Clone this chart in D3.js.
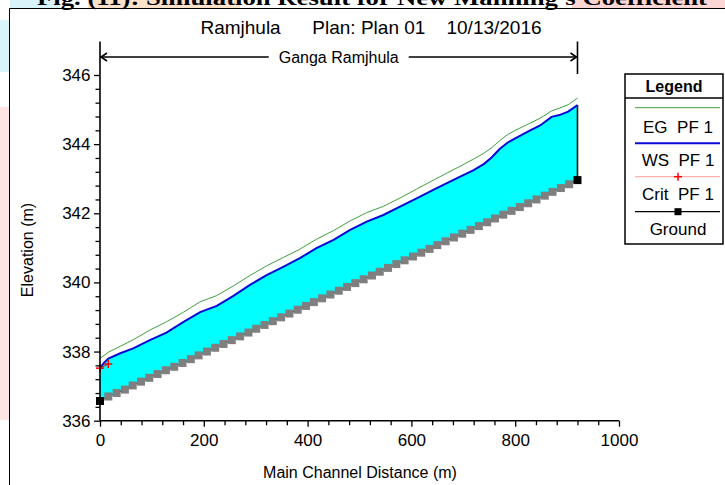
<!DOCTYPE html>
<html>
<head>
<meta charset="utf-8">
<script src="https://cdn.jsdelivr.net/npm/d3@7"></script>
<style>
  body { margin: 0; background: #fff; }
  text { font-family: "Liberation Sans", Arial, sans-serif; }
</style>
</head>
<body>
<svg width="725" height="485"></svg>
<script>
let width = 725, height = 485;

let svg = d3.select("svg");

// Ground profile (main channel distance in m, elevation in m)
let groundDist = [0, 16, 32, 48, 63, 79, 95, 111, 127, 143, 159, 175, 190, 206, 222, 238, 254, 270, 286, 301,
    317, 333, 349, 365, 381, 397, 412, 428, 444, 460, 476, 492, 508, 524, 539, 555, 571, 587, 603, 619,
    635, 650, 666, 682, 698, 714, 730, 746, 761, 777, 793, 809, 825, 841, 857, 872, 888, 904, 920];
let groundElev = [336.57, 336.70, 336.80, 336.90, 337.02, 337.13, 337.24, 337.35, 337.46, 337.56, 337.67, 337.78, 337.89, 338.00, 338.11, 338.22, 338.33, 338.44, 338.55, 338.66,
    338.77, 338.88, 338.99, 339.10, 339.21, 339.32, 339.43, 339.54, 339.65, 339.76, 339.87, 339.98, 340.09, 340.20, 340.31, 340.42, 340.53, 340.64, 340.75, 340.86,
    340.97, 341.08, 341.19, 341.30, 341.41, 341.52, 341.63, 341.74, 341.85, 341.96, 342.07, 342.18, 342.29, 342.40, 342.51, 342.62, 342.73, 342.84, 342.96];

// WS PF 1
let wsDist = [0, 8, 16, 39, 64, 96, 128, 161, 193, 225, 257, 289, 321, 353, 385, 417, 450, 482, 514, 546,
    578, 610, 645, 690, 720, 740, 755, 770, 785, 800, 828, 848, 870, 885, 902, 920];
let wsElev = [337.52, 337.68, 337.80, 337.95, 338.09, 338.33, 338.55, 338.86, 339.14, 339.32, 339.61, 339.93, 340.21, 340.45, 340.70, 340.99, 341.23, 341.52, 341.76, 341.95,
    342.19, 342.43, 342.70, 343.03, 343.25, 343.43, 343.62, 343.86, 344.04, 344.17, 344.39, 344.54, 344.79, 344.84, 344.94, 345.13];

// EG PF 1
let egDist = [0, 16, 40, 64, 96, 128, 161, 193, 225, 257, 289, 321, 353, 385, 417, 450, 482, 514, 546,
    578, 610, 645, 690, 720, 740, 755, 770, 785, 800, 828, 848, 870, 885, 902, 920];
let egElev = [337.80, 337.98, 338.16, 338.34, 338.62, 338.86, 339.14, 339.44, 339.62, 339.90, 340.20, 340.48, 340.72, 340.96, 341.25, 341.50, 341.78, 342.02, 342.20,
    342.44, 342.70, 342.98, 343.33, 343.57, 343.74, 343.90, 344.10, 344.27, 344.40, 344.60, 344.75, 344.96, 345.04, 345.14, 345.33];

// Crit PF 1
let critDist = [0, 16];
let critElev = [337.52, 337.64];

let xTicks = [0, 200, 400, 600, 800, 1000];
let yTicks = [336, 338, 340, 342, 344, 346];
let legendNames = ["EG  PF 1", "WS  PF 1", "Crit  PF 1", "Ground"];

let title = "Ramjhula      Plan: Plan 01    10/13/2016";
let reachName = "Ganga Ramjhula";
let caption = "Fig. (11): Simulation Result for New Manning's Coefficient";

let x = d3.scaleLinear().domain([0, 1000]).range([100, 619]);
let y = d3.scaleLinear().domain([336, 346]).range([420.7, 75]);

let pts = (ds, es) => ds.map((d, i) => [d, es[i]]);
let ground = pts(groundDist, groundElev);
let ws = pts(wsDist, wsElev);
let eg = pts(egDist, egElev);
let crit = pts(critDist, critElev);

let line = d3.line().x(d => x(d[0])).y(d => y(d[1]));

svg.append("rect").attr("width", width).attr("height", height).attr("fill", "#fff");

// page background bits (caption highlights, watermark)
svg.append("rect").attr("x", 10).attr("y", 0).attr("width", 50).attr("height", 8).attr("fill", "#d9f3fb");
svg.append("rect").attr("x", 88).attr("y", 0).attr("width", 152).attr("height", 8).attr("fill", "#fde1c8");
svg.append("rect").attr("x", 572).attr("y", 0).attr("width", 153).attr("height", 8).attr("fill", "#fcd5d5");
svg.append("rect").attr("x", 0).attr("y", 20).attr("width", 9).attr("height", 52).attr("fill", "#d9f3fb");
svg.append("rect").attr("x", 0).attr("y", 107).attr("width", 9).attr("height", 313).attr("fill", "#fde5e5");

// caption of the page, cut at the top edge as in the source
svg.append("text")
    .attr("x", 37).attr("y", 5)
    .attr("textLength", 670)
    .attr("lengthAdjust", "spacingAndGlyphs")
    .style("font-family", "'Liberation Serif', 'Times New Roman', serif")
    .style("font-weight", "bold")
    .style("font-size", "22px")
    .text(caption);

// figure frame
svg.append("line").attr("x1", 9.5).attr("x2", 9.5).attr("y1", 8.5).attr("y2", height)
    .attr("stroke", "#000").attr("stroke-width", 1);
svg.append("line").attr("x1", 9.5).attr("x2", width).attr("y1", 8.5).attr("y2", 8.5)
    .attr("stroke", "#000").attr("stroke-width", 1);

// title
svg.append("text")
    .attr("x", 371).attr("y", 34)
    .attr("text-anchor", "middle")
    .style("font-size", "19px")
    .style("white-space", "pre")
    .text(title);

// water fill between WS and ground
let fillPts = ws.concat(ground.slice().reverse());
svg.append("path")
    .attr("d", line(fillPts) + "Z")
    .attr("fill", "#00ffff")
    .attr("stroke", "none");

// right edge of water
svg.append("line")
    .attr("x1", x(920)).attr("x2", x(920))
    .attr("y1", y(ws[ws.length - 1][1])).attr("y2", y(ground[ground.length - 1][1]))
    .attr("stroke", "#111").attr("stroke-width", 1.6);

// ground line
svg.append("path").attr("d", line(ground))
    .attr("fill", "none").attr("stroke", "#000").attr("stroke-width", 1);

// EG
svg.append("path").attr("d", line(eg))
    .attr("fill", "none").attr("stroke", "#3f9f3f").attr("stroke-width", 1);

// WS
svg.append("path").attr("d", line(ws))
    .attr("fill", "none").attr("stroke", "#0a0ad6").attr("stroke-width", 2);

// Crit markers
let plus = (g, cx, cy, col) => {
    g.append("line").attr("x1", cx - 4).attr("x2", cx + 4).attr("y1", cy).attr("y2", cy)
        .attr("stroke", col).attr("stroke-width", 1.5);
    g.append("line").attr("x1", cx).attr("x2", cx).attr("y1", cy - 4).attr("y2", cy + 4)
        .attr("stroke", col).attr("stroke-width", 1.5);
};
let critG = svg.append("g");
critG.append("path").attr("d", line(crit)).attr("fill", "none").attr("stroke", "#ff0000").attr("stroke-width", 1);
crit.forEach(d => plus(critG, x(d[0]), y(d[1]), "#ff0000"));

// ground markers
svg.append("g")
    .selectAll("rect")
    .data(ground)
    .enter()
    .append("rect")
    .attr("x", d => x(d[0]) - 4)
    .attr("y", d => y(d[1]) - 4)
    .attr("width", 8).attr("height", 8)
    .attr("fill", (d, i) => (i == 0 || i == ground.length - 1) ? "#000" : "#7f7f7f");

// axes
let yMinor = d3.range(336, 346.01, 0.4).filter(v => Math.abs(v - Math.round(v / 2) * 2) > 0.01);
let xMinor = d3.range(0, 1001, 40).filter(v => v % 200 != 0);

let axG = svg.append("g").attr("stroke", "#000");
axG.append("line").attr("x1", 100).attr("x2", 100).attr("y1", 41.5).attr("y2", y(336))
    .attr("stroke-width", 1.6);
axG.append("line").attr("x1", 100).attr("x2", x(1000)).attr("y1", y(336)).attr("y2", y(336))
    .attr("stroke-width", 1.6);

let yAxis = svg.append("g").attr("transform", "translate(100,0)")
    .call(d3.axisLeft(y).tickValues(yTicks).tickSize(6).tickPadding(3.5).tickFormat(d3.format("d")));
let yAxisMinor = svg.append("g").attr("transform", "translate(100,0)")
    .call(d3.axisLeft(y).tickValues(yMinor).tickSize(4.5).tickFormat(""));
let xAxis = svg.append("g").attr("transform", "translate(0," + y(336) + ")")
    .call(d3.axisBottom(x).tickValues(xTicks).tickSize(6).tickPadding(7).tickFormat(d3.format("d")));
let xAxisMinor = svg.append("g").attr("transform", "translate(0," + y(336) + ")")
    .call(d3.axisBottom(x).tickValues(xMinor).tickSize(4.5).tickFormat(""));

[yAxis, yAxisMinor, xAxis, xAxisMinor].forEach(a => {
    a.select(".domain").remove();
    a.selectAll(".tick line").attr("stroke", "#000").attr("stroke-width", 1.3);
    a.selectAll("text").attr("fill", "#000")
        .style("font-family", "'Liberation Sans', Arial, sans-serif")
        .style("font-size", "17px");
});

// axis titles
svg.append("text")
    .attr("transform", "translate(33,250) rotate(-90)")
    .attr("text-anchor", "middle")
    .style("font-size", "16px")
    .text("Elevation (m)");
svg.append("text")
    .attr("x", 360).attr("y", 478)
    .attr("text-anchor", "middle")
    .style("font-size", "16px")
    .text("Main Channel Distance (m)");

// reach marker
let reachY = 57;
let rg = svg.append("g").attr("stroke", "#000").attr("fill", "none");
rg.append("line").attr("x1", x(920)).attr("x2", x(920)).attr("y1", 41.5).attr("y2", 74)
    .attr("stroke-width", 1.6);
rg.append("line").attr("x1", x(0)).attr("x2", x(920)).attr("y1", reachY).attr("y2", reachY)
    .attr("stroke-width", 1.6);
rg.append("path").attr("d", "M" + (x(0) + 7) + "," + (reachY - 4) + "L" + (x(0) + 1) + "," + reachY + "L" + (x(0) + 7) + "," + (reachY + 4))
    .attr("stroke-width", 1.6);
rg.append("path").attr("d", "M" + (x(920) - 7) + "," + (reachY - 4) + "L" + (x(920) - 1) + "," + reachY + "L" + (x(920) - 7) + "," + (reachY + 4))
    .attr("stroke-width", 1.6);
let midX = (x(0) + x(920)) / 2;
svg.append("rect").attr("x", midX - 70).attr("y", reachY - 9).attr("width", 140).attr("height", 18).attr("fill", "#fff");
svg.append("text")
    .attr("x", midX).attr("y", reachY + 6)
    .attr("text-anchor", "middle")
    .style("font-size", "16px")
    .text(reachName);

// legend
let lg = svg.append("g");
lg.append("rect").attr("x", 625).attr("y", 74).attr("width", 98).attr("height", 170)
    .attr("fill", "#fff").attr("stroke", "#000").attr("stroke-width", 1.5);
lg.append("line").attr("x1", 625).attr("x2", 723).attr("y1", 98).attr("y2", 98)
    .attr("stroke", "#000").attr("stroke-width", 1.3);
lg.append("text").attr("x", 674).attr("y", 92).attr("text-anchor", "middle")
    .style("font-size", "16px").style("font-weight", "bold").text("Legend");

let legendLineY = [107.7, 143.3, 176.7, 211.7];
let legendTextY = [132.5, 166, 200, 235];
lg.append("line").attr("x1", 635).attr("x2", 720).attr("y1", legendLineY[0]).attr("y2", legendLineY[0])
    .attr("stroke", "#3f9f3f").attr("stroke-width", 1);
lg.append("line").attr("x1", 635).attr("x2", 720).attr("y1", legendLineY[1]).attr("y2", legendLineY[1])
    .attr("stroke", "#0a0ad6").attr("stroke-width", 2);
lg.append("line").attr("x1", 635).attr("x2", 720).attr("y1", legendLineY[2]).attr("y2", legendLineY[2])
    .attr("stroke", "#ffb0b0").attr("stroke-width", 1.2);
plus(lg, 678, legendLineY[2], "#ff0000");
lg.append("line").attr("x1", 635).attr("x2", 720).attr("y1", legendLineY[3]).attr("y2", legendLineY[3])
    .attr("stroke", "#000").attr("stroke-width", 1.2);
lg.append("rect").attr("x", 678 - 3.5).attr("y", legendLineY[3] - 3.5).attr("width", 7).attr("height", 7).attr("fill", "#000");

lg.selectAll("text.item")
    .data(legendNames)
    .enter()
    .append("text")
    .attr("class", "item")
    .attr("x", 678)
    .attr("y", (d, i) => legendTextY[i])
    .attr("text-anchor", "middle")
    .style("font-size", "17px")
    .style("white-space", "pre")
    .text(d => d);
</script>
</body>
</html>
